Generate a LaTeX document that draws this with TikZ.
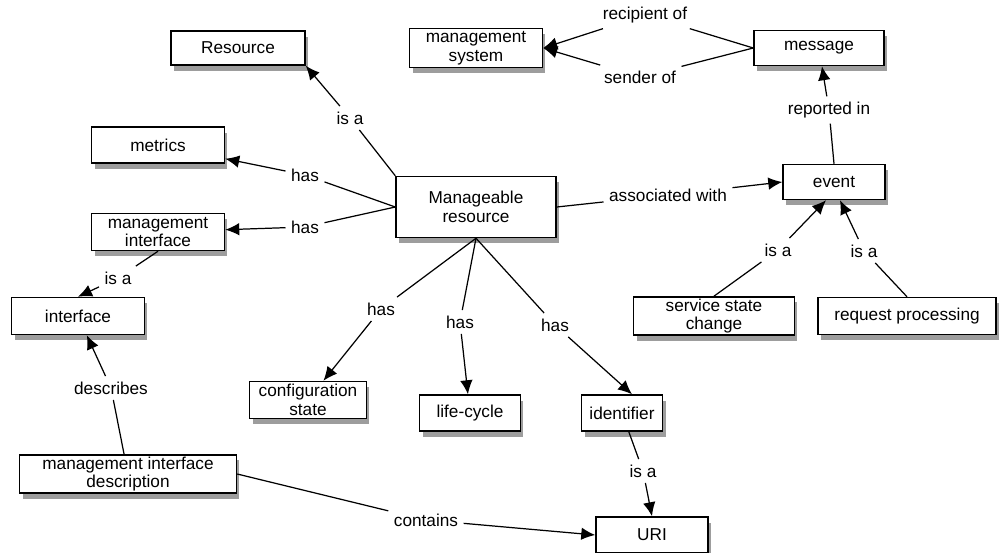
\documentclass[tikz,border=0pt]{standalone}
\usepackage{fontspec}
\setmainfont{Liberation Sans}
\usetikzlibrary{arrows.meta,shadows}

\begin{document}
\begin{tikzpicture}[x=0.02cm, y=-0.02cm,
    every node/.style={font=\fontsize{9.8}{10.6}\selectfont},
    concept/.style={draw, fill=white, line width=0.85pt, align=center, inner sep=1pt,
        drop shadow={shadow xshift=0.06cm, shadow yshift=-0.11cm, fill=black!70, opacity=0.55}},
    link/.style={fill=white, inner sep=3pt},
    conn/.style={-, line width=0.7pt},
    arr/.style={-{Latex[length=2.8mm,width=2.5mm]}, line width=0.7pt}]
            \useasboundingbox (0,0) rectangle (1000,552);

            % concepts
            \node[concept, minimum width=2.68cm, minimum height=0.68cm] at (238,48) (res) {Resource};
            \node[concept, minimum width=2.66cm, minimum height=0.78cm] at (476,48) (msys) {management\\system};
            \node[concept, minimum width=2.6cm, minimum height=0.7cm] at (819,48) (msg) {message};
            \node[concept, minimum width=2.66cm, minimum height=0.72cm] at (158,145) (metrics) {metrics};
            \node[concept, minimum width=3.2cm, minimum height=1.22cm] at (476,207) (mr) {Manageable\\resource};
            \node[concept, minimum width=2.04cm, minimum height=0.7cm] at (834,182) (event) {event};
            \node[concept, minimum width=2.66cm, minimum height=0.74cm] at (158,232) (mi) {management\\interface};
            \node[concept, minimum width=2.66cm, minimum height=0.74cm] at (78,316) (iface) {interface};
            \node[concept, minimum width=3.22cm, minimum height=0.74cm] at (714,316) (ssc) {service state\\change};
            \node[concept, minimum width=3.56cm, minimum height=0.74cm] at (907,316) (rp) {request processing};
            \node[concept, minimum width=2.34cm, minimum height=0.74cm] at (308,400) (cfg) {configuration\\state};
            \node[concept, minimum width=2.02cm, minimum height=0.72cm] at (470,413) (lc) {life-cycle};
            \node[concept, minimum width=1.62cm, minimum height=0.72cm] at (622,413) (ident) {identifier};
            \node[concept, minimum width=4.34cm, minimum height=0.72cm] at (128,474) (mid) {management interface\\description};
            \node[concept, minimum width=2.24cm, minimum height=0.72cm] at (652,535) (uri) {URI};

            % link labels
            \node[link] at (350,118) (isa1) {is a};
            \node[link] at (645,15) (rcp) {recipient of};
            \node[link] at (640,77) (snd) {sender of};
            \node[link] at (829,110) (rep) {reported in};
            \node[link] at (305,175) (has1) {has};
            \node[link] at (305,227) (has2) {has};
            \node[link] at (668,195) (assoc) {associated with};
            \node[link] at (118,278) (isa2) {is a};
            \node[link] at (778,250) (isa3) {is a};
            \node[link] at (864,251) (isa4) {is a};
            \node[link] at (381,309) (has3) {has};
            \node[link] at (460,322) (has4) {has};
            \node[link] at (555,325) (has5) {has};
            \node[link] at (111,388) (desc) {describes};
            \node[link] at (643,471) (isa5) {is a};
            \node[link] at (426,520) (cont) {contains};

            % connectors
            \draw[conn] (mr.north west) -- (isa1);
            \draw[arr] (isa1) -- (res.south east);
            \draw[conn] (msg.west) -- (rcp);
            \draw[arr] (rcp) -- (msys.east);
            \draw[conn] (msg.west) -- (snd);
            \draw[arr] (snd) -- (msys.east);
            \draw[conn] (event.north) -- (rep);
            \draw[arr] (rep) -- (msg);
            \draw[conn] (mr.west) -- (has1);
            \draw[arr] (has1) -- (metrics);
            \draw[conn] (mr.west) -- (has2);
            \draw[arr] (has2) -- (mi);
            \draw[conn] (mr.east) -- (assoc);
            \draw[arr] (assoc) -- (event.west);
            \draw[conn] (mi.south) -- (isa2);
            \draw[arr] (isa2) -- (iface.north);
            \draw[conn] (ssc.north) -- (isa3);
            \draw[arr] (isa3) -- ([xshift=-0.16cm]event.south);
            \draw[conn] (rp.north) -- (isa4);
            \draw[arr] (isa4) -- ([xshift=0.12cm]event.south);
            \draw[conn] (mr.south) -- (has3);
            \draw[arr] (has3) -- (cfg);
            \draw[conn] (mr.south) -- (has4);
            \draw[arr] (has4) -- (lc);
            \draw[conn] (mr.south) -- (has5);
            \draw[arr] (has5) -- ([xshift=0.2cm]ident.north);
            \draw[conn] (ident) -- (isa5);
            \draw[arr] (isa5) -- (uri.north);
            \draw[conn] (mid) -- (desc);
            \draw[arr] (desc) -- (iface);
            \draw[conn] (mid.east) -- (cont);
            \draw[arr] (cont) -- (uri.west);
        \end{tikzpicture}
\end{document}
